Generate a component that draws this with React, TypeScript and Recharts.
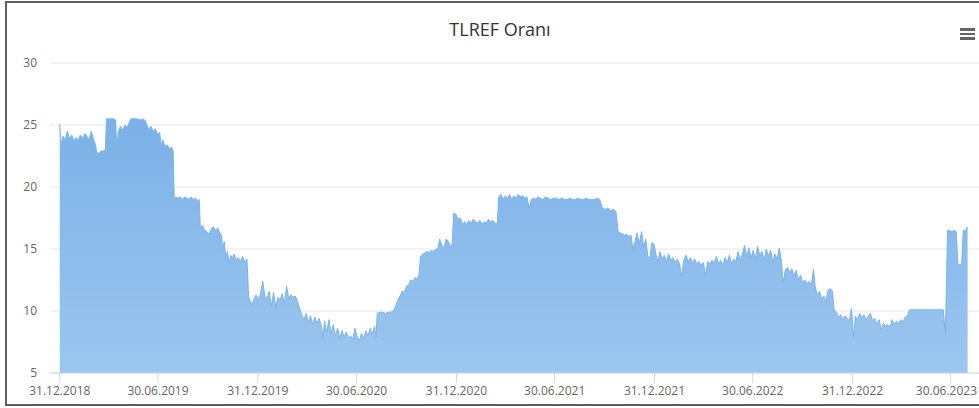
import React from 'react';
import { AreaChart, Area, XAxis, YAxis, CartesianGrid } from 'recharts';

// x values are days since 31.12.2018
const tickDays = [0, 181, 365, 547, 731, 912, 1096, 1277, 1461, 1642];
const tickLabels = ['31.12.2018', '30.06.2019', '31.12.2019', '30.06.2020', '31.12.2020', '30.06.2021', '31.12.2021', '30.06.2022', '31.12.2022', '30.06.2023'];
const yTicks = [5, 10, 15, 20, 25, 30];

const h1_2019 = [[0,25.1],[2,23.4],[6,24.1],[10,23.8],[14,24.5],[18,23.9],[22,24.2],[26,23.7],[30,24.0],[34,23.8],[38,24.2],[42,23.9],[46,24.3],[50,24.1],[54,23.8],[58,24.5],[62,23.9],[66,23.4],[68,22.8],[72,22.7],[76,22.9],[80,22.9],[84,23.0],[86,25.5],[90,25.5],[95,25.5],[100,25.5],[103,25.4],[105,23.2],[108,24.5],[112,24.9],[116,24.6],[120,25.0],[124,24.8],[128,25.2],[131,25.5],[136,25.5],[142,25.5],[148,25.4],[154,25.5],[158,25.3],[160,25.1],[164,24.6],[168,24.9],[172,24.5],[176,24.7],[180,24.3]];
const h2_2019 = [[184,24.4],[187,23.4],[190,23.8],[194,23.3],[198,23.4],[202,23.1],[206,23.2],[209,22.9],[211,19.0],[214,19.2],[218,19.1],[222,19.2],[226,19.0],[230,19.2],[234,19.1],[238,19.0],[242,19.2],[246,19.0],[250,19.1],[254,18.9],[257,19.0],[259,16.7],[263,16.9],[267,16.5],[271,16.4],[275,16.2],[279,16.6],[283,16.8],[287,16.5],[291,16.7],[295,16.3],[298,16.1],[300,15.0],[303,15.6],[306,14.3],[309,14.8],[312,13.8],[315,14.5],[318,14.2],[321,14.6],[325,14.1],[329,14.3],[333,14.0],[337,14.4],[341,13.9],[345,14.2],[348,11.2],[351,10.8],[354,10.5],[358,11.0],[362,11.3]];
const h1_2020 = [[366,10.9],[370,11.4],[374,12.4],[378,11.2],[382,11.0],[386,11.6],[390,10.4],[394,11.5],[398,10.3],[402,11.1],[406,10.9],[410,11.4],[414,10.6],[418,12.0],[422,11.0],[426,11.3],[430,11.1],[434,11.2],[438,10.8],[442,10.2],[446,9.7],[450,9.3],[454,9.8],[458,9.1],[462,9.6],[466,8.9],[470,9.5],[474,9.0],[478,9.4],[482,8.8],[485,7.9],[488,9.2],[492,8.3],[496,9.3],[500,8.2],[504,8.9],[508,8.0],[512,8.6],[516,7.8],[520,8.4],[524,7.9],[528,8.3],[532,7.8],[536,8.0],[540,7.7],[544,8.6]];
const h2_2020 = [[548,7.9],[552,7.6],[556,8.2],[560,7.8],[564,8.4],[568,8.0],[572,8.6],[576,8.1],[580,8.8],[583,7.9],[585,9.8],[590,9.9],[595,9.9],[600,9.8],[605,9.9],[610,9.9],[615,10.0],[619,10.4],[623,10.9],[627,11.2],[631,11.6],[635,11.5],[639,12.0],[643,12.1],[647,12.5],[651,12.4],[655,12.7],[659,12.6],[662,12.9],[665,14.4],[669,14.6],[673,14.7],[677,14.8],[681,14.7],[685,14.9],[689,14.8],[693,15.0],[697,15.0],[700,15.8],[704,15.3],[708,15.1],[712,15.8],[716,15.6],[720,15.2],[723,15.4],[726,17.9],[730,17.8]];
const h1_2021 = [[734,17.4],[738,17.5],[742,17.0],[746,17.2],[750,17.0],[754,17.3],[758,17.1],[762,17.4],[766,17.2],[770,17.1],[774,17.3],[778,17.0],[782,17.2],[786,17.1],[790,17.4],[794,17.2],[798,17.3],[802,17.1],[806,17.0],[809,19.2],[813,19.4],[817,19.0],[821,19.3],[825,19.1],[829,19.4],[833,19.0],[837,19.3],[841,19.1],[845,19.4],[849,19.2],[853,19.3],[857,19.1],[861,19.2],[865,18.3],[869,19.0],[873,19.1],[877,19.0],[881,19.2],[885,19.1],[890,19.0],[895,19.2],[900,19.1],[905,19.0],[910,19.1]];
const h2_2021 = [[915,19.1],[920,19.0],[925,19.1],[930,19.0],[935,19.0],[940,19.1],[945,19.0],[950,19.0],[955,19.1],[960,19.0],[965,19.0],[970,19.1],[975,19.0],[980,19.0],[985,19.0],[990,19.1],[995,19.0],[1000,18.3],[1005,18.2],[1010,18.3],[1015,18.1],[1020,18.2],[1025,18.0],[1029,16.4],[1033,16.3],[1037,16.2],[1041,16.1],[1045,16.2],[1049,16.0],[1053,16.1],[1056,15.0],[1060,15.6],[1064,16.3],[1068,15.4],[1072,16.4],[1076,15.2],[1080,15.8],[1084,14.3],[1088,14.4],[1091,15.5],[1095,15.4]];
const h1_2022 = [[1099,14.5],[1102,14.0],[1106,14.8],[1110,14.2],[1114,14.5],[1118,14.0],[1122,14.6],[1126,14.1],[1130,14.3],[1134,13.9],[1138,14.2],[1142,13.8],[1146,12.8],[1150,14.1],[1154,14.5],[1158,14.0],[1162,14.3],[1166,13.9],[1170,14.2],[1174,13.8],[1178,14.0],[1182,13.7],[1186,13.9],[1190,12.9],[1194,14.0],[1198,13.8],[1202,14.1],[1206,13.9],[1210,14.4],[1214,13.8],[1218,14.1],[1222,13.7],[1226,14.3],[1230,13.9],[1234,14.5],[1238,13.8],[1242,14.2],[1246,14.0],[1250,14.8],[1254,14.1],[1258,14.6],[1262,15.3],[1266,14.4],[1270,15.1],[1274,14.3]];
const h2_2022 = [[1278,14.9],[1282,14.2],[1286,15.2],[1290,14.5],[1294,14.8],[1298,14.1],[1302,15.0],[1306,14.4],[1310,14.9],[1314,14.0],[1318,14.6],[1322,14.2],[1326,15.1],[1330,14.0],[1333,12.3],[1337,13.3],[1341,13.5],[1345,13.1],[1349,13.4],[1353,12.8],[1357,13.3],[1361,12.5],[1365,12.9],[1369,12.3],[1373,12.5],[1377,12.2],[1381,12.4],[1385,12.1],[1389,13.4],[1392,12.0],[1396,11.3],[1400,11.6],[1404,11.0],[1408,11.2],[1412,10.8],[1416,11.7],[1420,11.8],[1424,11.6],[1427,10.1],[1431,9.9],[1435,9.5],[1439,9.7],[1443,9.3],[1447,9.6],[1451,9.4],[1455,9.2],[1459,10.2]];
const h1_2023 = [[1463,7.9],[1466,9.6],[1470,9.3],[1474,9.8],[1478,9.5],[1482,9.7],[1486,9.3],[1490,9.6],[1494,9.8],[1498,9.2],[1502,9.4],[1506,8.9],[1510,9.3],[1514,8.5],[1518,9.0],[1522,8.8],[1526,8.9],[1530,8.7],[1534,9.3],[1538,8.9],[1542,9.2],[1546,9.0],[1550,9.3],[1554,9.1],[1558,9.5],[1562,9.6],[1566,10.1],[1570,10.1],[1580,10.1],[1590,10.1],[1600,10.1],[1610,10.1],[1620,10.1],[1628,10.1],[1632,8.2],[1636,16.5],[1640,16.5]];
const h2_2023 = [[1644,16.4],[1648,16.5],[1652,16.4],[1655,13.8],[1659,13.7],[1662,13.8],[1665,16.5],[1669,16.5],[1673,16.8]];

const data = [h1_2019, h2_2019, h1_2020, h2_2020, h1_2021, h2_2021, h1_2022, h2_2022, h1_2023, h2_2023]
  .flat()
  .map(([day, value]) => ({ day, value }));

const labelFor = (d: number) => {
  const i = tickDays.indexOf(d);
  return i >= 0 ? tickLabels[i] : '';
};

const FONT = '"Open Sans", "DejaVu Sans", sans-serif';

const XTick = (props: any) => {
  const { x, y, payload } = props;
  const label = labelFor(payload.value);
  const isLast = payload.value === tickDays[tickDays.length - 1];
  return (
    <text
      x={isLast ? 977 : x}
      y={y + 11}
      textAnchor={isLast ? 'end' : 'middle'}
      fill="#666666"
      fontSize={12}
      fontFamily={FONT}
    >
      {label}
    </text>
  );
};

export default function App() {
  return (
    <div style={{ position: 'fixed', left: 0, top: 0, width: 979, height: 408, overflow: 'hidden', background: '#fff', fontFamily: FONT }}>
      <div style={{ position: 'absolute', left: 5, top: 1, width: 1100, height: 401, borderLeft: '2px solid #5e5e5e', borderTop: '2px solid #5e5e5e', borderBottom: '2px solid #5e5e5e' }} />
      <div style={{ position: 'absolute', left: 0, top: 17, width: 1000, textAlign: 'center', fontSize: 18, lineHeight: '24px', color: '#333333', fontFamily: FONT }}>
        TLREF Oranı
      </div>
      <div style={{ position: 'absolute', left: 960, top: 28, width: 15 }}>
        <div style={{ height: 2.5, background: '#666', marginBottom: 2 }} />
        <div style={{ height: 2.5, background: '#666', marginBottom: 2 }} />
        <div style={{ height: 2.5, background: '#666' }} />
      </div>
      <div style={{ position: 'absolute', left: 0, top: 0 }}>
        <AreaChart width={979} height={408} data={data} margin={{ top: 63, right: 0, bottom: 5, left: 0 }}>
          <defs>
            <linearGradient id="tlrefFill" x1="0" y1="0" x2="0" y2="1">
              <stop offset="0%" stopColor="#7bb1e8" />
              <stop offset="100%" stopColor="#9cc6ef" />
            </linearGradient>
          </defs>
          <CartesianGrid vertical={false} stroke="#e6e6e6" />
          <XAxis
            dataKey="day"
            type="number"
            domain={[-18, 1694]}
            ticks={tickDays}
            tickFormatter={labelFor}
            height={30}
            stroke="#ccd6eb"
            tickSize={10}
            tickMargin={1}
            tick={<XTick />}
            interval={0}
            allowDataOverflow
          />
          <YAxis
            type="number"
            domain={[5, 30]}
            ticks={yTicks}
            width={50}
            axisLine={false}
            tickLine={false}
            tickSize={6}
            tickMargin={7}
            tick={{ fill: '#666666', fontSize: 12, fontFamily: FONT }}
            interval={0}
          />
          <Area
            type="linear"
            dataKey="value"
            stroke="#7cb5ec"
            strokeWidth={1}
            fill="url(#tlrefFill)"
            fillOpacity={1}
            isAnimationActive={false}
            dot={false}
            activeDot={false}
          />
        </AreaChart>
      </div>
    </div>
  );
}
